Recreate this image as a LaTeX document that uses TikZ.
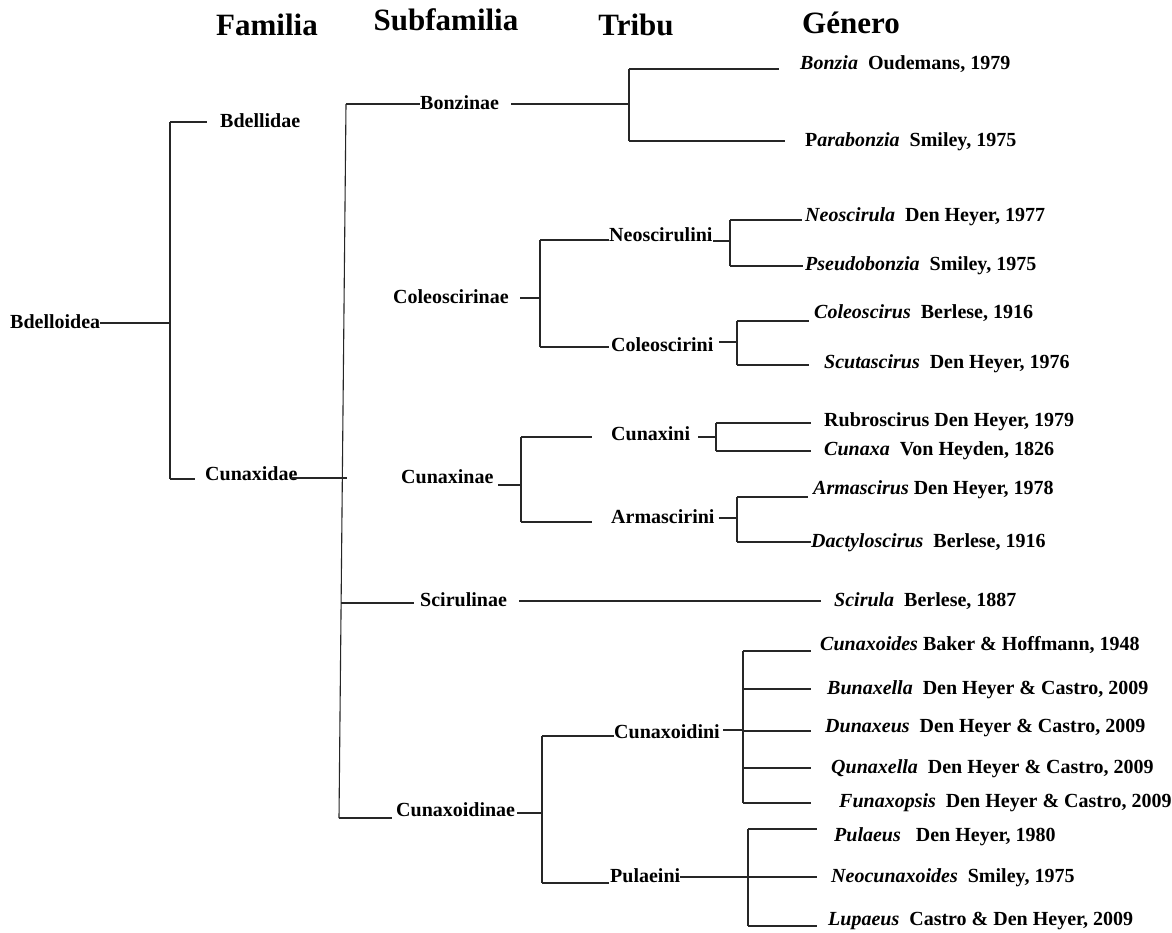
\documentclass[tikz,border=0pt]{standalone}
\usepackage{fontspec}
\setmainfont{Liberation Serif}
\begin{document}
\begin{tikzpicture}[x=1pt,y=-1pt,
  ln/.style={line width=1.1pt, draw=black!85},
  lbl/.style={anchor=west, inner sep=0pt, font=\fontsize{20}{21}\selectfont\bfseries, text height=14pt, text depth=3pt},
  hdr/.style={inner sep=0pt, font=\fontsize{31}{33}\selectfont\bfseries}]
\useasboundingbox[fill=white] (0,0) rectangle (1172,932);

% headers
\node[hdr] (hfam) at (267,25) {Familia};
\node[hdr] (hsub) at (446,20) {Subfamilia};
\node[hdr] (htri) at (636,25) {Tribu};
\node[hdr] (hgen) at (851,23) {Género};

% ---- superfamily / families
\node[lbl] (bdo) at (10,323) {Bdelloidea};
\node[lbl] (bdl) at (220,122) {Bdellidae};
\node[lbl] (cnd) at (205,475) {Cunaxidae};
\coordinate (r0) at (170,323);
\coordinate (r1) at (170,122);
\coordinate (r2) at (170,479);
\coordinate (r1e) at (207,122);
\coordinate (r2e) at (195,479);
\draw[ln] (r1) -- (r2);
\draw[ln] (bdo.east) -- (r0);
\draw[ln] (r1) -- (r1e);
\draw[ln] (r2) -- (r2e);

% subfamily trunk
\coordinate (sv1) at (346,104);
\coordinate (sv4) at (341.1,603);
\coordinate (sv5) at (339,818);
\coordinate (cndE) at (291,478);
\coordinate (cndX) at (347,478);
\draw[ln] (sv1) -- (sv5);
\draw[ln] (cndE) -- (cndX);

% ---- Bonzinae
\node[lbl] (bonz) at (420,104) {Bonzinae};
\coordinate (bzS) at (511,104);
\coordinate (bzV) at (629,104);
\coordinate (bzT) at (629,69);
\coordinate (bzB) at (629,141);
\coordinate (bzTe) at (779,69);
\coordinate (bzBe) at (785,141);
\draw[ln] (sv1) -- (bonz.west);
\draw[ln] (bzS) -- (bzV);
\draw[ln] (bzT) -- (bzB);
\draw[ln] (bzT) -- (bzTe);
\draw[ln] (bzB) -- (bzBe);
\node[lbl] (g1) at (800,64) {\textit{Bonzia}\ \ Oudemans, 1979};
\node[lbl] (g2) at (805,141) {P\textit{arabonzia}\ \ Smiley, 1975};

% ---- Coleoscirinae
\node[lbl] (cole) at (393,298) {Coleoscirinae};
\coordinate (coS) at (520,298);
\coordinate (coV) at (540,298);
\coordinate (coT) at (540,240);
\coordinate (coB) at (540,347);
\draw[ln] (coS) -- (coV);
\draw[ln] (coT) -- (coB);
\node[lbl] (neos) at (609,236) {Neoscirulini};
\node[lbl] (colt) at (611,346) {Coleoscirini};
\coordinate (neosW) at (609,240);
\coordinate (coltW) at (609,347);
\draw[ln] (coT) -- (neosW);
\draw[ln] (coB) -- (coltW);
% Neoscirulini genera
\coordinate (nsS) at (713,241);
\coordinate (nsV) at (730,241);
\coordinate (nsT) at (730,220);
\coordinate (nsB) at (730,266);
\coordinate (nsTe) at (802,220);
\coordinate (nsBe) at (803,266);
\draw[ln] (nsS) -- (nsV);
\draw[ln] (nsT) -- (nsB);
\draw[ln] (nsT) -- (nsTe);
\draw[ln] (nsB) -- (nsBe);
\node[lbl] (g3) at (805,216) {\textit{Neoscirula}\ \ Den Heyer, 1977};
\node[lbl] (g4) at (805,265) {\textit{Pseudobonzia}\ \ Smiley, 1975};
% Coleoscirini genera
\coordinate (ctS) at (719,342);
\coordinate (ctV) at (737,342);
\coordinate (ctT) at (737,321);
\coordinate (ctB) at (737,365);
\coordinate (ctTe) at (809,321);
\coordinate (ctBe) at (809,365);
\draw[ln] (ctS) -- (ctV);
\draw[ln] (ctT) -- (ctB);
\draw[ln] (ctT) -- (ctTe);
\draw[ln] (ctB) -- (ctBe);
\node[lbl] (g5) at (814,313) {\textit{Coleoscirus}\ \ Berlese, 1916};
\node[lbl] (g6) at (824,363) {\textit{Scutascirus}\ \ Den Heyer, 1976};

% ---- Cunaxinae
\node[lbl] (cunx) at (401,478) {Cunaxinae};
\coordinate (cxS) at (498,485);
\coordinate (cxV) at (521,485);
\coordinate (cxT) at (521,437);
\coordinate (cxB) at (521,522);
\coordinate (cxTe) at (592,437);
\coordinate (cxBe) at (592,522);
\draw[ln] (cxS) -- (cxV);
\draw[ln] (cxT) -- (cxB);
\draw[ln] (cxT) -- (cxTe);
\draw[ln] (cxB) -- (cxBe);
\node[lbl] (cxni) at (611,435) {Cunaxini};
\node[lbl] (arms) at (611,518) {Armascirini};
% Cunaxini genera
\coordinate (ciS) at (698,437);
\coordinate (ciV) at (716,437);
\coordinate (ciT) at (716,423);
\coordinate (ciB) at (716,451);
\coordinate (ciTe) at (811,423);
\coordinate (ciBe) at (811,451);
\draw[ln] (ciS) -- (ciV);
\draw[ln] (ciT) -- (ciB);
\draw[ln] (ciT) -- (ciTe);
\draw[ln] (ciB) -- (ciBe);
\node[lbl] (g7) at (824,421) {Rubroscirus Den Heyer, 1979};
\node[lbl] (g8) at (824,450) {\textit{Cunaxa}\ \ Von Heyden, 1826};
% Armascirini genera
\coordinate (arS) at (719,518);
\coordinate (arV) at (737,518);
\coordinate (arT) at (737,497);
\coordinate (arB) at (737,542);
\coordinate (arTe) at (808,497);
\coordinate (arBe) at (811,542);
\draw[ln] (arS) -- (arV);
\draw[ln] (arT) -- (arB);
\draw[ln] (arT) -- (arTe);
\draw[ln] (arB) -- (arBe);
\node[lbl] (g9) at (813,489) {\textit{Armascirus} Den Heyer, 1978};
\node[lbl] (g10) at (811,542) {\textit{Dactyloscirus}\ \ Berlese, 1916};

% ---- Scirulinae
\node[lbl] (scir) at (420,601) {Scirulinae};
\coordinate (scW) at (414,603);
\draw[ln] (sv4) -- (scW);
\coordinate (scS) at (519,601);
\coordinate (scE) at (821,601);
\draw[ln] (scS) -- (scE);
\node[lbl] (g11) at (834,601) {\textit{Scirula}\ \ Berlese, 1887};

% ---- Cunaxoidinae
\node[lbl] (cuxd) at (396,811) {Cunaxoidinae};
\coordinate (cdW) at (392,818);
\draw[ln] (sv5) -- (cdW);
\coordinate (cdS) at (517,813);
\coordinate (cdV) at (542,813);
\coordinate (cdT) at (542,736);
\coordinate (cdB) at (542,883);
\coordinate (cdniW) at (614,736);
\coordinate (pulaW) at (609,883);
\draw[ln] (cdS) -- (cdV);
\draw[ln] (cdT) -- (cdB);
\draw[ln] (cdT) -- (cdniW);
\draw[ln] (cdB) -- (pulaW);
\node[lbl] (cdni) at (614,733) {Cunaxoidini};
\node[lbl] (pula) at (610,877) {Pulaeini};
% Cunaxoidini genera
\coordinate (ciS2) at (723,730);
\coordinate (cdiV) at (743,730);
\coordinate (cdiT) at (743,651);
\coordinate (cdiB) at (743,803);
\draw[ln] (ciS2) -- (cdiV);
\draw[ln] (cdiT) -- (cdiB);
\foreach \yy/\nm in {651/a,689/b,731/c,768/d,803/e}{
  \coordinate (cdi\nm) at (743,\yy);
  \coordinate (cdi\nm e) at (811,\yy);
  \draw[ln] (cdi\nm) -- (cdi\nm e);
}
\node[lbl] (g12) at (820,645) {\textit{Cunaxoides} Baker \& Hoffmann, 1948};
\node[lbl] (g13) at (827,689) {\textit{Bunaxella}\ \ Den Heyer \& Castro, 2009};
\node[lbl] (g14) at (825,727) {\textit{Dunaxeus}\ \ Den Heyer \& Castro, 2009};
\node[lbl] (g15) at (831,768) {\textit{Qunaxella}\ \ Den Heyer \& Castro, 2009};
\node[lbl] (g16) at (839,802) {\textit{Funaxopsis}\ \ Den Heyer \& Castro, 2009};
% Pulaeini genera
\coordinate (plT) at (748,829);
\coordinate (plM) at (748,877);
\coordinate (plB) at (748,926);
\coordinate (plTe) at (817,829);
\coordinate (plMe) at (817,877);
\coordinate (plBe) at (817,926);
\draw[ln] (plT) -- (plB);
\draw[ln] (pula.east) -- (plM);
\draw[ln] (plM) -- (plMe);
\draw[ln] (plT) -- (plTe);
\draw[ln] (plB) -- (plBe);
\node[lbl] (g17) at (834,836) {\textit{Pulaeus}\ \ \ Den Heyer, 1980};
\node[lbl] (g18) at (831,877) {\textit{Neocunaxoides}\ \ Smiley, 1975};
\node[lbl] (g19) at (828,920) {\textit{Lupaeus}\ \ Castro \& Den Heyer, 2009};
\end{tikzpicture}
\end{document}
